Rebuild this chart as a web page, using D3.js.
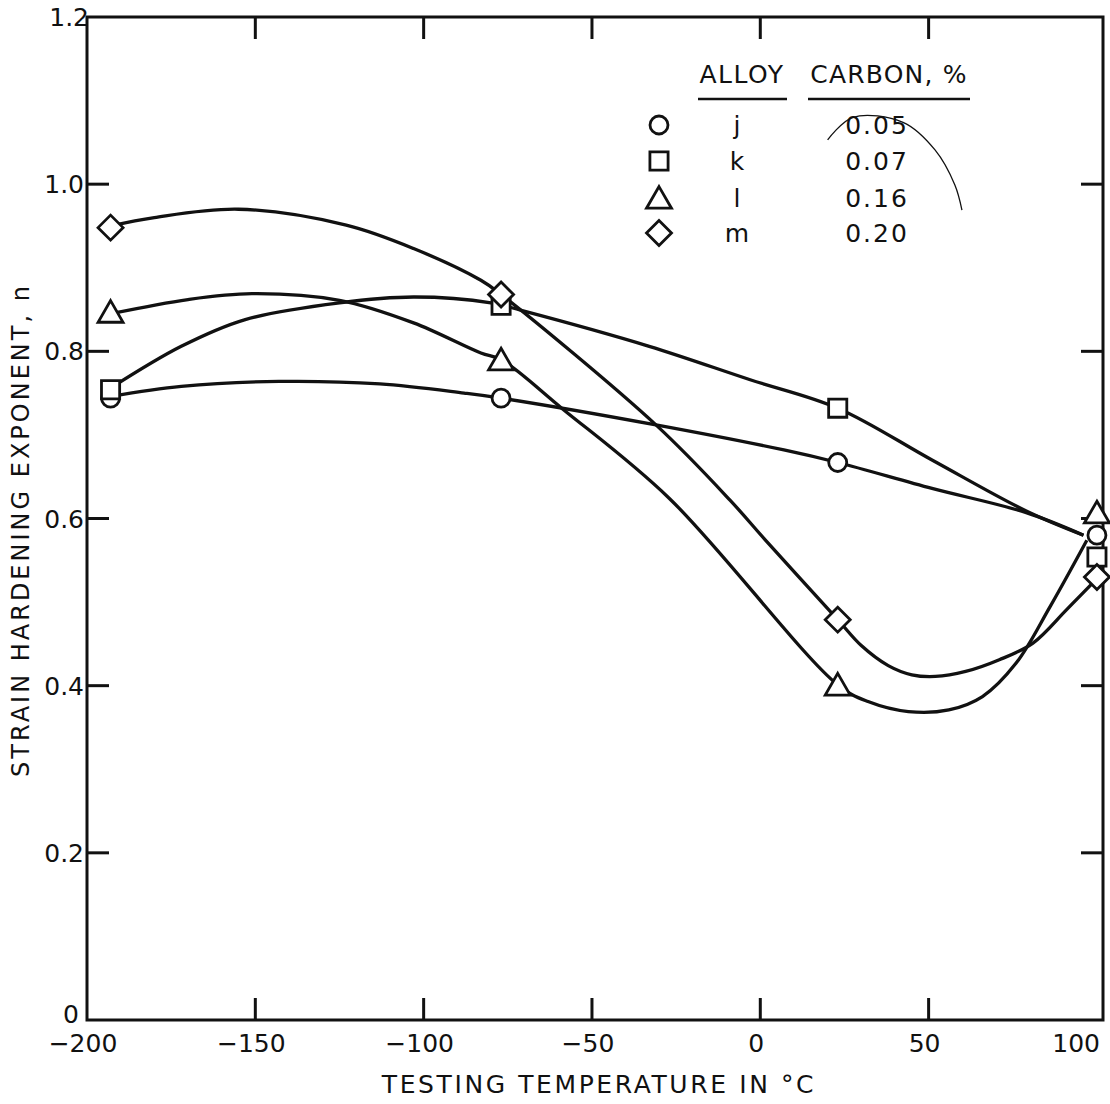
<!DOCTYPE html>
<html>
<head>
<meta charset="utf-8">
<script src="https://cdn.jsdelivr.net/npm/d3@7"></script>
<style>
  body { margin: 0; background: #fff; }
  text { font-family: "DejaVu Sans", sans-serif; fill: #111; }
</style>
</head>
<body>
<svg id="chart" width="1110" height="1104"></svg>
<script>
// Data
var temps = [-193, -77, 23, 100];
var alloys = ["j", "k", "l", "m"];
var carbon = ["0.05", "0.07", "0.16", "0.20"];
var symbols = ["circle", "square", "triangle", "diamond"];

var nJ = [0.744, 0.744, 0.667, 0.580];
var nK = [0.754, 0.855, 0.732, 0.554];
var nL = [0.847, 0.790, 0.401, 0.607];
var nM = [0.948, 0.868, 0.479, 0.530];

// hand-faired curves as [temp, n]
var curveJ = [[-193, 0.746], [-172, 0.758], [-143, 0.764], [-113, 0.761], [-88, 0.750],
  [-77, 0.744], [-31, 0.712], [7, 0.682], [23, 0.667], [51, 0.636], [79, 0.607], [96, 0.580]];
var curveK = [[-193, 0.756], [-172, 0.806], [-153, 0.838], [-125, 0.858], [-103, 0.865],
  [-80, 0.858], [-71, 0.849], [-33, 0.806], [-3, 0.766], [23, 0.732], [51, 0.670], [79, 0.609], [96, 0.580]];
var curveL = [[-193, 0.845], [-170, 0.862], [-151, 0.869], [-125, 0.861], [-103, 0.834],
  [-83, 0.798], [-77, 0.790], [-59, 0.732], [-27, 0.624], [23, 0.401],
  [32, 0.381], [44, 0.369], [56, 0.371], [66, 0.387], [76, 0.427], [86, 0.494], [97, 0.574]];
var curveM = [[-193, 0.950], [-180, 0.960], [-155, 0.970], [-123, 0.951], [-103, 0.923],
  [-83, 0.885], [-77, 0.868], [-31, 0.712], [-9, 0.622], [2, 0.572], [23, 0.479],
  [30, 0.448], [38, 0.424], [45, 0.413], [52, 0.411], [61, 0.417], [71, 0.431], [81, 0.451], [91, 0.491], [100, 0.528]];

// pen mark across the legend
var penMark = [[20, 1.053], [27.5, 1.080], [42.4, 1.074], [51.9, 1.041], [57.8, 0.999], [59.9, 0.969]];

var xTicks = [-200, -150, -100, -50, 0, 50, 100];
var yTicks = [0, 0.2, 0.4, 0.6, 0.8, 1.0, 1.2];
var yTickLabels = ["0", "0.2", "0.4", "0.6", "0.8", "1.0", "1.2"];

// Setup
var svg = d3.select("#chart");
var x = d3.scaleLinear().domain([-200, 101.8]).range([87, 1103]);
var y = d3.scaleLinear().domain([0, 1.2]).range([1020, 17]);
var tickLen = 22;

// frame
svg.append("rect")
    .attr("x", x(-200)).attr("y", y(1.2))
    .attr("width", x(101.8) - x(-200)).attr("height", y(0) - y(1.2))
    .attr("fill", "none").attr("stroke", "#111").attr("stroke-width", 3);

// ticks, inward on all four sides
var innerX = xTicks.filter(function(d) { return d > -200 && d < 100; });
var innerY = yTicks.filter(function(d) { return d > 0 && d < 1.2; });

svg.append("g").selectAll("line").data(innerX).enter().append("line")
    .attr("x1", x).attr("x2", x)
    .attr("y1", y(0)).attr("y2", y(0) - tickLen);
svg.append("g").selectAll("line").data(innerX).enter().append("line")
    .attr("x1", x).attr("x2", x)
    .attr("y1", y(1.2)).attr("y2", y(1.2) + tickLen);
svg.append("g").selectAll("line").data(innerY).enter().append("line")
    .attr("x1", x(-200)).attr("x2", x(-200) + tickLen)
    .attr("y1", y).attr("y2", y);
svg.append("g").selectAll("line").data(innerY).enter().append("line")
    .attr("x1", x(101.8)).attr("x2", x(101.8) - tickLen)
    .attr("y1", y).attr("y2", y);
svg.selectAll("line").attr("stroke", "#111").attr("stroke-width", 3);

// tick labels
svg.append("g").selectAll("text").data(xTicks).enter().append("text")
    .attr("x", function(d) { return d === 100 ? 1100 : x(d) - 4; })
    .attr("y", 1052)
    .attr("text-anchor", function(d) { return d === 100 ? "end" : "middle"; })
    .attr("font-size", 25)
    .text(function(d) { return d < 0 ? "\u2212" + Math.abs(d) : d; });

svg.append("g").selectAll("text").data(yTicks).enter().append("text")
    .attr("x", function(d) { return d === 0 ? 79 : (d === 1.2 ? 89 : 84); })
    .attr("y", function(d) { return d === 0 ? y(d) + 3 : y(d) + 9; })
    .attr("text-anchor", "end")
    .attr("font-size", 25)
    .text(function(d, i) { return yTickLabels[i]; });

// axis titles
svg.append("text")
    .attr("x", 599).attr("y", 1093)
    .attr("text-anchor", "middle")
    .attr("font-size", 25)
    .attr("letter-spacing", 2.6)
    .text("TESTING  TEMPERATURE  IN \u00b0C");

svg.append("text")
    .attr("transform", "translate(29,530) rotate(-90)")
    .attr("text-anchor", "middle")
    .attr("font-size", 24)
    .attr("letter-spacing", 3)
    .text("STRAIN  HARDENING  EXPONENT, n");

// curves
var line = d3.line()
    .x(function(d) { return x(d[0]); })
    .y(function(d) { return y(d[1]); })
    .curve(d3.curveCatmullRom.alpha(0.5));

[curveJ, curveK, curveL, curveM].forEach(function(c) {
  svg.append("path")
      .attr("d", line(c))
      .attr("fill", "none")
      .attr("stroke", "#111")
      .attr("stroke-width", 3.3);
});

// markers
var symbolPath = {
  circle: d3.symbol().type(d3.symbolCircle).size(Math.PI * 81),
  square: d3.symbol().type(d3.symbolSquare).size(330),
  triangle: d3.symbol().type(d3.symbolTriangle).size(270),
  diamond: function() {
    var r = 12.5;
    return "M0," + (-r) + "L" + r + ",0L0," + r + "L" + (-r) + ",0Z";
  }
};

function drawMarkers(vals, kind) {
  svg.append("g").selectAll("path").data(vals).enter().append("path")
      .attr("transform", function(d, i) {
        var dy = kind === "triangle" ? 3 : 0;
        return "translate(" + x(temps[i]) + "," + (y(d) + dy) + ")";
      })
      .attr("d", symbolPath[kind]())
      .attr("fill", "#fff")
      .attr("stroke", "#111")
      .attr("stroke-width", 2.8);
}
drawMarkers(nJ, "circle");
drawMarkers(nK, "square");
drawMarkers(nL, "triangle");
drawMarkers(nM, "diamond");

// legend
var legend = svg.append("g");
legend.append("text").attr("x", 742).attr("y", 83).attr("text-anchor", "middle")
    .attr("font-size", 25).attr("letter-spacing", 1.5).text("ALLOY");
legend.append("text").attr("x", 889).attr("y", 83).attr("text-anchor", "middle")
    .attr("font-size", 25).attr("letter-spacing", 1.2).text("CARBON, %");
legend.append("line").attr("x1", 698).attr("x2", 787).attr("y1", 99).attr("y2", 99);
legend.append("line").attr("x1", 808).attr("x2", 970).attr("y1", 99).attr("y2", 99);
legend.selectAll("line").attr("stroke", "#111").attr("stroke-width", 2.5);

var rowY = [125, 161, 198, 233];
symbols.forEach(function(s, i) {
  legend.append("path")
      .attr("transform", "translate(659," + (rowY[i] + (s === "triangle" ? 3 : 0)) + ")")
      .attr("d", symbolPath[s]())
      .attr("fill", "#fff").attr("stroke", "#111").attr("stroke-width", 2.8);
  legend.append("text").attr("x", 737).attr("y", rowY[i] + 9)
      .attr("text-anchor", "middle").attr("font-size", 25).text(alloys[i]);
  legend.append("text").attr("x", 877).attr("y", rowY[i] + 9)
      .attr("text-anchor", "middle").attr("font-size", 25).attr("letter-spacing", 2).text(carbon[i]);
});

svg.append("path")
    .attr("d", line(penMark))
    .attr("fill", "none")
    .attr("stroke", "#111")
    .attr("stroke-width", 1.3);
</script>
</body>
</html>
